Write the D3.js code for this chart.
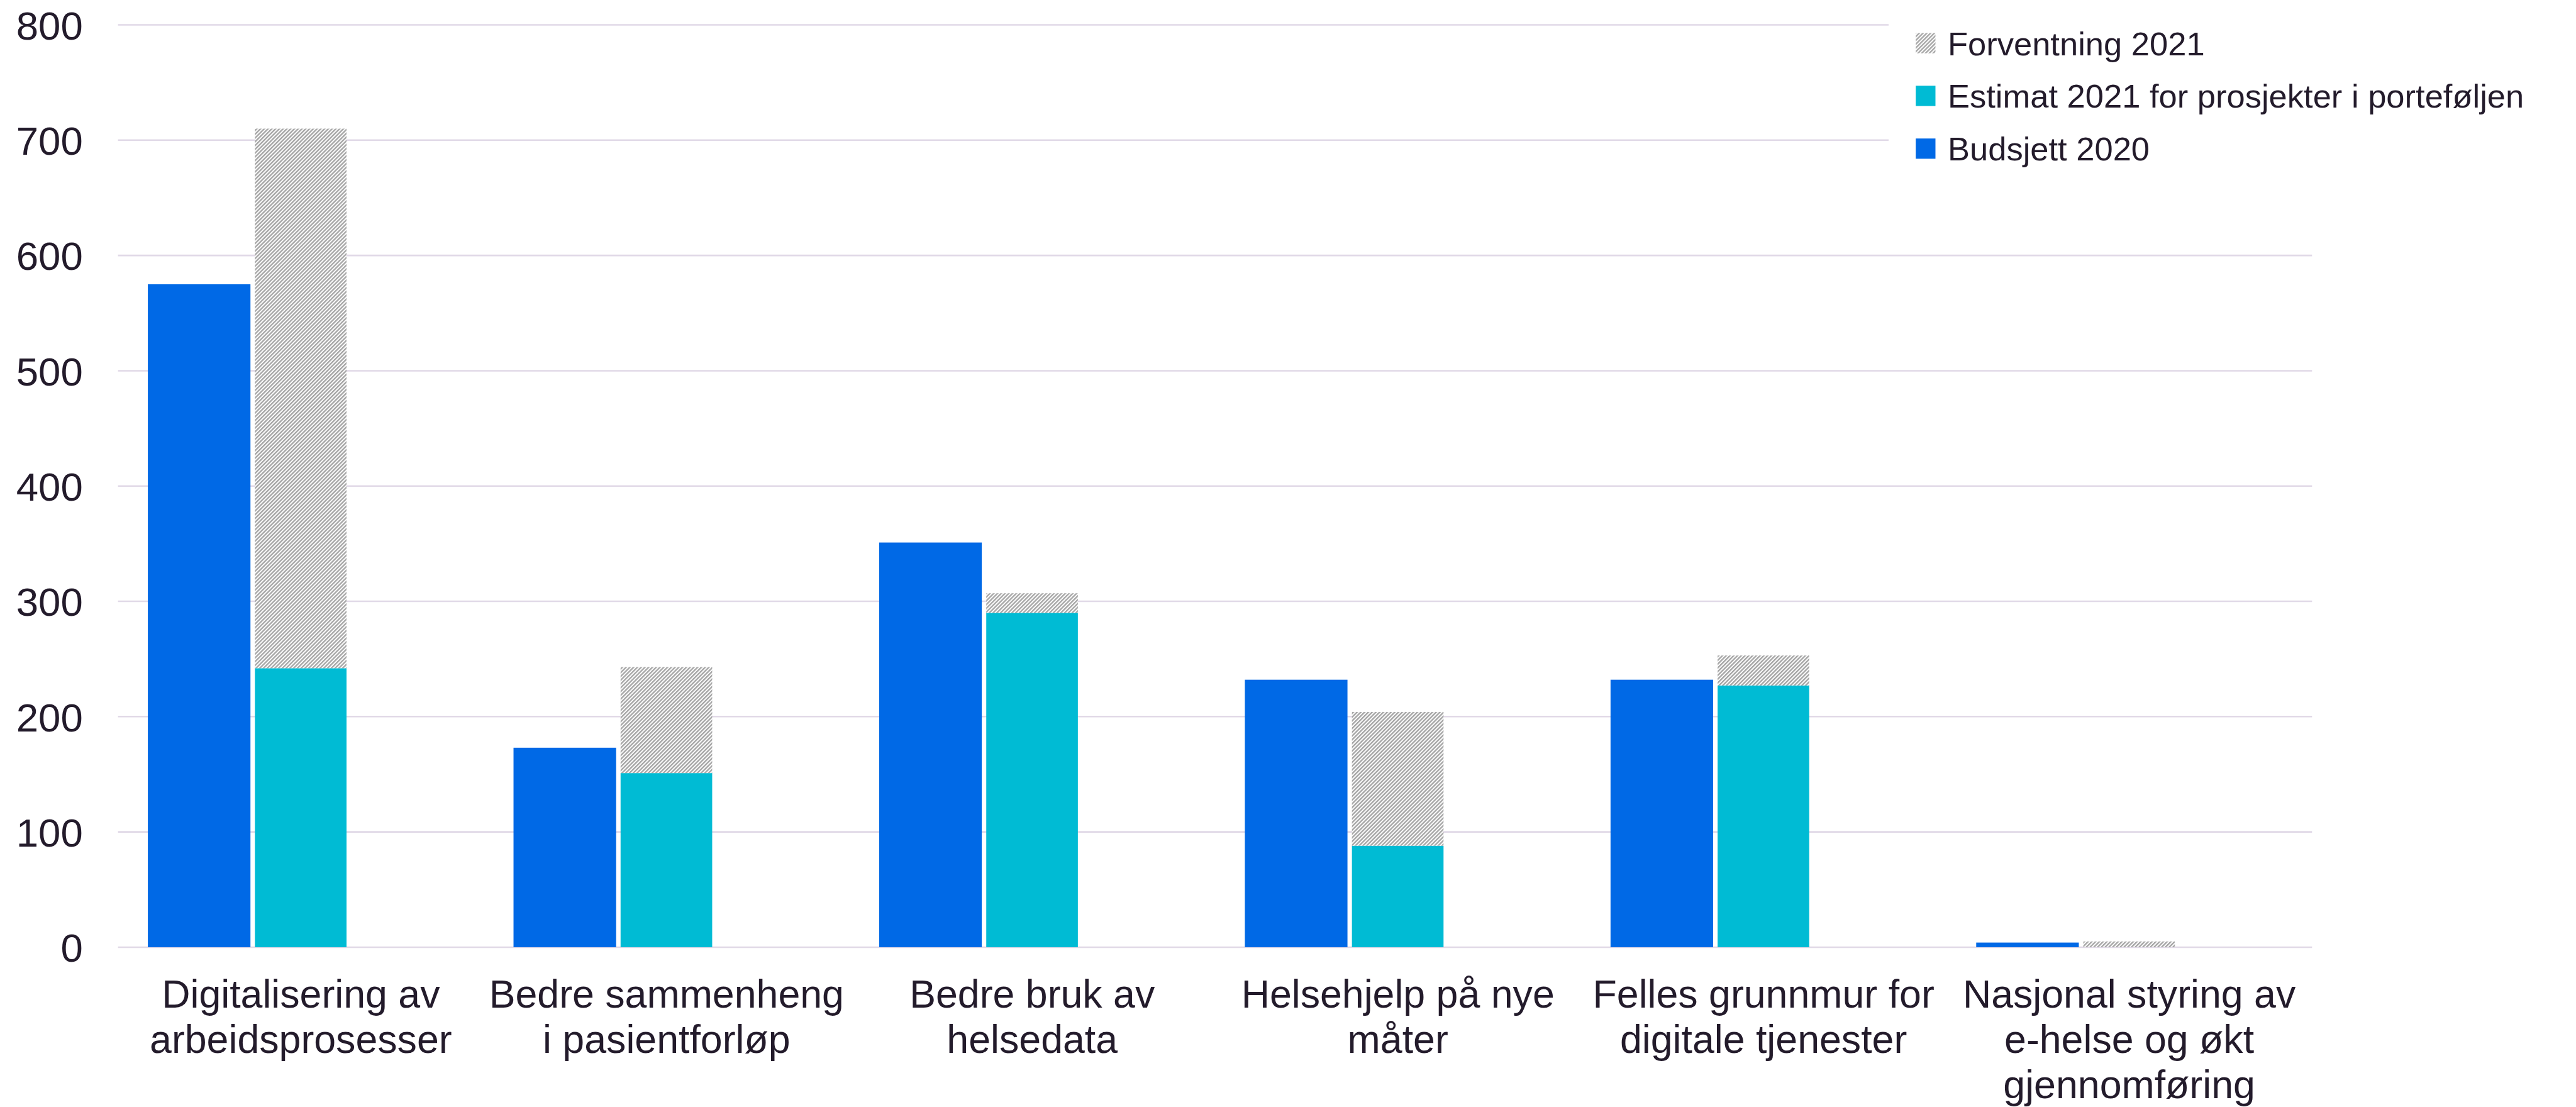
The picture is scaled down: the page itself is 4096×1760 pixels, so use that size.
<!DOCTYPE html>
<html>
<head>
<meta charset="utf-8">
<script src="https://cdn.jsdelivr.net/npm/d3@7"></script>
<style>
  html, body { margin: 0; padding: 0; background: #ffffff; }
  svg { display: block; }
  text { font-family: "Liberation Sans", Arial, sans-serif; fill: #231b2b; }
</style>
</head>
<body>
<svg id="chart" width="4096" height="1760" viewBox="0 0 4835 2078"></svg>
<script>
// ---- data ----
const categories = [
  "Digitalisering av arbeidsprosesser",
  "Bedre sammenheng i pasientforløp",
  "Bedre bruk av helsedata",
  "Helsehjelp på nye måter",
  "Felles grunnmur for digitale tjenester",
  "Nasjonal styring av e-helse og økt gjennomføring"
];
const categoryLines = [
  ["Digitalisering av", "arbeidsprosesser"],
  ["Bedre sammenheng", "i pasientforløp"],
  ["Bedre bruk av", "helsedata"],
  ["Helsehjelp på nye", "måter"],
  ["Felles grunnmur for", "digitale tjenester"],
  ["Nasjonal styring av", "e-helse og økt", "gjennomføring"]
];
const budsjett2020 = [575, 173, 351, 232, 232, 4];
const estimat2021 = [242, 151, 290, 88, 227, 0];
const forventning2021 = [710, 243, 307, 204, 253, 5];
const yTicks = [0, 100, 200, 300, 400, 500, 600, 700, 800];
const legendLabels = ["Forventning 2021", "Estimat 2021 for prosjekter i porteføljen", "Budsjett 2020"];

// ---- layout (reference pixel space, scaled by viewBox) ----
const plotLeft = 221, plotRight = 4340, plotTop = 46.7, plotBottom = 1778;
const colBlue = "#0069e6", colTeal = "#00bbd4", colHatch = "#a6a6a6";
const gridColor = "#e1d9e7";

const svg = d3.select("#chart");
const defs = svg.append("defs");
const pat = defs.append("pattern")
  .attr("id", "hatch").attr("patternUnits", "userSpaceOnUse")
  .attr("width", 5).attr("height", 5)
  .attr("patternTransform", "rotate(45)");
pat.append("rect").attr("width", 5).attr("height", 5).attr("fill", "#ffffff");
pat.append("rect").attr("x", 0).attr("y", 0).attr("width", 2.8).attr("height", 5).attr("fill", colHatch);

const x = d3.scaleBand().domain(categories).range([plotLeft, plotRight]).padding(0);
const y = d3.scaleLinear().domain([0, 800]).range([plotBottom, plotTop]);
const bw = x.bandwidth();

// gridlines
svg.append("g").selectAll("line").data(yTicks).join("line")
  .attr("x1", plotLeft).attr("x2", plotRight)
  .attr("y1", d => y(d)).attr("y2", d => y(d))
  .attr("stroke", gridColor).attr("stroke-width", 3);

// y axis labels
const yAxis = svg.append("g").attr("transform", `translate(${155},0)`)
  .call(d3.axisLeft(y).tickValues(yTicks).tickSize(0).tickPadding(0).tickFormat(d3.format("d")));
yAxis.select(".domain").remove();
yAxis.selectAll("text").attr("font-size", 75).attr("font-family", "Liberation Sans, Arial, sans-serif")
  .attr("fill", "#231b2b").attr("dy", "0.36em");

// bars
const blueOff = 0.0816, blueW = 0.2806, tealOff = 0.3744, tealW = 0.2505;
const g = svg.append("g");
g.selectAll("rect.blue").data(categories).join("rect").attr("class", "blue")
  .attr("x", (d) => x(d) + blueOff * bw)
  .attr("width", blueW * bw)
  .attr("y", (d, i) => y(budsjett2020[i]))
  .attr("height", (d, i) => y(0) - y(budsjett2020[i]))
  .attr("fill", colBlue);
g.selectAll("rect.teal").data(categories).join("rect").attr("class", "teal")
  .attr("x", (d) => x(d) + tealOff * bw)
  .attr("width", tealW * bw)
  .attr("y", (d, i) => y(estimat2021[i]))
  .attr("height", (d, i) => y(0) - y(estimat2021[i]))
  .attr("fill", colTeal);
g.selectAll("rect.hatch").data(categories).join("rect").attr("class", "hatch")
  .attr("x", (d) => x(d) + tealOff * bw)
  .attr("width", tealW * bw)
  .attr("y", (d, i) => y(forventning2021[i]))
  .attr("height", (d, i) => Math.max(0, y(estimat2021[i]) - y(forventning2021[i])))
  .attr("fill", "url(#hatch)");

// x axis category labels
const xAxis = svg.append("g").attr("transform", `translate(0,${plotBottom})`)
  .call(d3.axisBottom(x).tickSize(0).tickFormat(""));
xAxis.select(".domain").remove();
xAxis.selectAll(".tick").each(function(d, i) {
  const t = d3.select(this).append("text")
    .attr("text-anchor", "middle").attr("font-size", 74)
    .attr("font-family", "Liberation Sans, Arial, sans-serif").attr("fill", "#231b2b");
  categoryLines[i].forEach((line, k) => {
    t.append("tspan").attr("x", 0).attr("y", 113 + k * 85).text(line);
  });
});

// legend
const leg = svg.append("g");
leg.append("rect").attr("x", 3545).attr("y", 0).attr("width", 1290).attr("height", 335).attr("fill", "#ffffff");
const legFills = ["url(#hatch)", colTeal, colBlue];
legendLabels.forEach((lab, i) => {
  const cy = 81 + i * 99;
  leg.append("rect").attr("x", 3596).attr("y", cy - 19).attr("width", 37).attr("height", 38).attr("fill", legFills[i]);
  leg.append("text").attr("x", 3656).attr("y", cy).attr("dy", "0.36em")
    .attr("font-size", 62).text(lab);
});
</script>
</body>
</html>
